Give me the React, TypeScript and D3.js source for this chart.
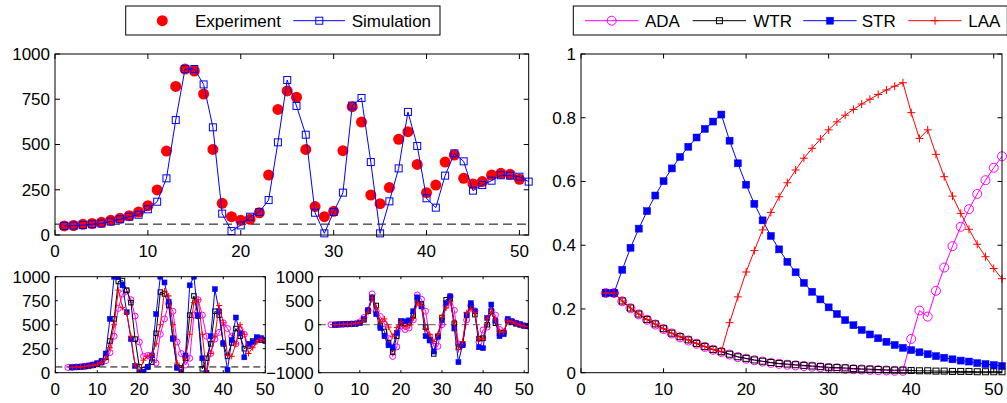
import React from "react";
import * as d3 from "d3";

const FONT = "'Liberation Sans', Arial, Helvetica, sans-serif";
const FS = 17;

// ---------- top-left panel (x = 1..)
const expStart = 1;
const experiment = [50,52,59,64,70,81,92,107,127,162,249,464,821,917,906,779,473,175,101,81,87,123,331,694,796,761,473,157,101,131,466,709,624,221,173,262,529,571,390,234,276,403,442,313,282,295,331,341,335,308];
const simStart = 1;
const simulation = [50,52,55,59,63,74,87,101,112,142,184,313,635,917,917,832,595,118,22,53,101,127,193,512,856,713,554,123,9,127,234,715,757,403,9,186,368,680,492,203,151,328,451,407,245,276,300,330,328,322,295];
const threshold = 60;

// ---------- right panel (x = 3..51)
const rStart = 3;
const adaR = [0.25,0.25,0.224,0.202,0.183,0.166,0.151,0.137,0.123,0.111,0.101,0.091,0.081,0.072,0.065,0.057,0.049,0.044,0.039,0.035,0.031,0.028,0.025,0.023,0.021,0.019,0.017,0.015,0.014,0.012,0.011,0.010,0.009,0.008,0.007,0.006,0.006,0.106,0.195,0.176,0.257,0.330,0.397,0.458,0.513,0.561,0.604,0.643,0.679];
const wtrR = [0.25,0.25,0.225,0.203,0.184,0.167,0.153,0.138,0.124,0.113,0.103,0.092,0.082,0.073,0.066,0.058,0.050,0.045,0.040,0.036,0.032,0.029,0.027,0.025,0.023,0.021,0.019,0.017,0.016,0.015,0.013,0.012,0.011,0.010,0.009,0.008,0.008,0.007,0.006,0.006,0.005,0.005,0.004,0.004,0.004,0.003,0.003,0.003,0.003];
const strR = [0.25,0.25,0.323,0.392,0.452,0.507,0.556,0.601,0.641,0.677,0.709,0.738,0.765,0.788,0.810,0.728,0.657,0.590,0.530,0.478,0.429,0.387,0.348,0.315,0.282,0.254,0.230,0.205,0.184,0.165,0.149,0.134,0.120,0.108,0.097,0.087,0.078,0.071,0.064,0.058,0.052,0.047,0.042,0.038,0.035,0.030,0.027,0.024,0.021];
const laaR = [0.25,0.25,0.225,0.203,0.184,0.167,0.153,0.138,0.124,0.113,0.103,0.092,0.082,0.073,0.066,0.157,0.238,0.316,0.383,0.448,0.503,0.552,0.596,0.636,0.673,0.704,0.733,0.762,0.787,0.808,0.826,0.843,0.858,0.873,0.887,0.899,0.910,0.816,0.735,0.762,0.685,0.615,0.554,0.500,0.450,0.403,0.364,0.327,0.295];

// ---------- bottom-left panel
const adaBLStart = 3;
const adaBL = [55,57,60,63,67,73,80,90,105,125,210,380,670,820,850,760,590,320,170,180,150,100,400,560,720,640,320,200,80,150,600,760,600,380,200,350,420,520,460,380,300,450,400,280,300,340,350,340];
const blStart = 4;
const wtrBL = [55,57,60,64,70,78,90,110,160,330,560,950,960,860,730,350,60,30,60,110,410,840,820,700,360,60,50,150,600,800,590,40,150,300,640,600,300,170,310,460,380,250,280,330,350,340,330];
const strBL = [55,58,62,67,75,85,100,125,200,560,1000,1000,910,630,350,70,0,10,60,180,610,1000,940,740,350,50,10,180,910,1000,600,150,0,380,870,640,310,30,340,575,410,160,300,320,370,360,340];
const laaBL = [55,57,60,64,70,78,90,110,150,260,500,860,680,620,380,80,0,130,170,190,300,500,850,800,500,100,0,150,400,730,760,400,0,200,380,700,520,180,170,300,500,400,200,260,320,350,330];

// ---------- bottom-right panel
const adaBRStart = 3;
const adaBR = [0,2,5,8,12,18,25,60,150,300,640,280,170,20,-290,-660,-460,-30,-100,-70,100,620,530,280,-250,-450,-450,0,400,590,300,-400,-420,100,400,290,-360,-110,-50,300,200,-100,-150,100,70,30,0,-20,-30];
const brStart = 4;
const wtrBR = [0,5,8,10,15,20,40,100,280,570,400,-15,-140,-380,-570,-240,40,30,60,200,520,430,-50,-310,-610,-240,150,520,540,30,-470,-420,200,400,210,-290,-280,0,280,30,-180,-170,80,50,20,0,-20,-30];
const strBR = [0,5,8,10,15,20,40,120,300,550,220,-70,-240,-430,-470,-170,80,70,90,280,570,380,-240,-330,-560,-250,100,450,590,-80,-780,-420,210,450,280,-470,-490,140,420,80,-240,-200,120,70,35,10,-20,-30];
const laaBR = [0,5,8,10,15,20,40,100,260,560,350,60,120,-50,-240,-60,60,-40,-20,130,450,400,-80,-200,-350,-200,150,350,480,50,-520,-350,250,330,250,-290,-300,130,260,100,-150,-150,80,60,30,-10,-30,-40];

// ticks
const xTicks = [0, 10, 20, 30, 40, 50];
const countTicks = [0, 250, 500, 750, 1000];
const diffTicks = [-1000, -500, 0, 500, 1000];
const fracTicks = [0, 0.2, 0.4, 0.6, 0.8, 1];

const legendTop = ["Experiment", "Simulation"];
const legendRight = ["ADA", "WTR", "STR", "LAA"];

type Pt = [number, number];
const toPts = (start: number, vals: number[]): Pt[] => vals.map((v, i) => [start + i, v]);

type Scale = d3.ScaleLinear<number, number>;

function Frame({ x, y, xt, yt, fmt, tl }: { x: Scale; y: Scale; xt: number[]; yt: number[]; fmt: (v: number) => string; tl: number }) {
  const [x0, x1] = x.range();
  const [y0, y1] = y.range(); // y0 bottom, y1 top
  return (
    <g>
      <rect x={x0} y={y1} width={x1 - x0} height={y0 - y1} fill="none" stroke="#000" strokeWidth={1} />
      {xt.map((t) => (
        <g key={"x" + t}>
          <line x1={x(t)} x2={x(t)} y1={y0} y2={y0 - tl} stroke="#000" />
          <line x1={x(t)} x2={x(t)} y1={y1} y2={y1 + tl} stroke="#000" />
          <text x={x(t)} y={y0 + 22} textAnchor="middle" fontSize={FS} fontFamily={FONT}>{t}</text>
        </g>
      ))}
      {yt.map((t) => (
        <g key={"y" + t}>
          <line x1={x0} x2={x0 + tl} y1={y(t)} y2={y(t)} stroke="#000" />
          <line x1={x1} x2={x1 - tl} y1={y(t)} y2={y(t)} stroke="#000" />
          <text x={x0 - 5} y={y(t)} dy="0.35em" textAnchor="end" fontSize={FS} fontFamily={FONT}>{fmt(t)}</text>
        </g>
      ))}
    </g>
  );
}

type MarkerKind = "dot" | "sq" | "fsq" | "circ" | "plus";

function Marker({ kind, cx, cy, s, color }: { kind: MarkerKind; cx: number; cy: number; s: number; color: string }) {
  const h = s / 2;
  switch (kind) {
    case "dot":
      return <circle cx={cx} cy={cy} r={h} fill={color} />;
    case "sq":
      return <rect x={cx - h} y={cy - h} width={s} height={s} fill="none" stroke={color} strokeWidth={1} />;
    case "fsq":
      return <rect x={cx - h} y={cy - h} width={s} height={s} fill={color} stroke={color} strokeWidth={0.5} />;
    case "circ":
      return <circle cx={cx} cy={cy} r={h} fill="none" stroke={color} strokeWidth={1} />;
    case "plus":
      return (
        <path d={`M${cx - h},${cy}H${cx + h}M${cx},${cy - h}V${cy + h}`} stroke={color} strokeWidth={1} fill="none" />
      );
  }
}

function Series({ pts, x, y, color, kind, s, line = true, clip }: { pts: Pt[]; x: Scale; y: Scale; color: string; kind: MarkerKind; s: number; line?: boolean; clip?: string }) {
  const gen = d3.line<Pt>().x((d) => x(d[0])).y((d) => y(d[1]));
  return (
    <g clipPath={clip}>
      {line && <path d={gen(pts) || ""} fill="none" stroke={color} strokeWidth={1} />}
      {pts.map((p, i) => (
        <Marker key={i} kind={kind} cx={x(p[0])} cy={y(p[1])} s={s} color={color} />
      ))}
    </g>
  );
}

const MAG = "#ff00ff";
const BLU = "#0000ff";
const RED = "#ff0000";
const BLK = "#000000";

export default function App() {
  // scales
  const xTL = d3.scaleLinear().domain([0, 51]).range([55, 528.7]);
  const yTL = d3.scaleLinear().domain([0, 1000]).range([235, 54]);
  const xBL = d3.scaleLinear().domain([0, 50]).range([55.3, 265.3]);
  const yBL = d3.scaleLinear().domain([0, 1000]).range([372.7, 276.7]);
  const xBR = d3.scaleLinear().domain([0, 51]).range([318.7, 528.3]);
  const yBR = d3.scaleLinear().domain([-1000, 1000]).range([372.7, 276.7]);
  const xR = d3.scaleLinear().domain([0, 51]).range([581, 1002]);
  const yR = d3.scaleLinear().domain([0, 1]).range([372.7, 54]);

  const fmtInt = (v: number) => (v < 0 ? "\u2212" + Math.abs(v) : String(v));
  const fmtFrac = (v: number) => String(v);

  const ly = 20.7;

  return (
    <svg width={1007} height={403} style={{ position: "absolute", left: 0, top: 0, background: "#fff" }}>
      <defs>
        <clipPath id="cTL"><rect x={55} y={54} width={473.7} height={181} /></clipPath>
        <clipPath id="cBL"><rect x={55.3} y={276.7} width={210} height={96} /></clipPath>
        <clipPath id="cBR"><rect x={318.7} y={276.7} width={209.6} height={96} /></clipPath>
        <clipPath id="cR"><rect x={581} y={54} width={421} height={318.7} /></clipPath>
      </defs>
      <rect x={0} y={0} width={1007} height={403} fill="#fff" />

      {/* Top-left */}
      <line x1={xTL(0)} x2={xTL(51)} y1={yTL(threshold)} y2={yTL(threshold)} stroke="#000" strokeDasharray="9,5" />
      <Series pts={toPts(expStart, experiment)} x={xTL} y={yTL} color={RED} kind="dot" s={11} line={false} />
      <Series pts={toPts(simStart, simulation)} x={xTL} y={yTL} color={BLU} kind="sq" s={7} />
      <Frame x={xTL} y={yTL} xt={xTicks} yt={countTicks} fmt={fmtInt} tl={5} />

      {/* Bottom-left */}
      <line x1={xBL(0)} x2={xBL(50)} y1={yBL(threshold)} y2={yBL(threshold)} stroke="#000" strokeDasharray="7,4" />
      <Series pts={toPts(adaBLStart, adaBL)} x={xBL} y={yBL} color={MAG} kind="circ" s={6} clip="url(#cBL)" />
      <Series pts={toPts(blStart, wtrBL)} x={xBL} y={yBL} color={BLK} kind="sq" s={4.5} clip="url(#cBL)" />
      <Series pts={toPts(blStart, strBL)} x={xBL} y={yBL} color={BLU} kind="fsq" s={5} clip="url(#cBL)" />
      <Series pts={toPts(blStart, laaBL)} x={xBL} y={yBL} color={RED} kind="plus" s={6} clip="url(#cBL)" />
      <Frame x={xBL} y={yBL} xt={xTicks} yt={countTicks} fmt={fmtInt} tl={2.5} />

      {/* Bottom-right */}
      <line x1={xBR(0)} x2={xBR(51)} y1={yBR(0)} y2={yBR(0)} stroke="#555" strokeDasharray="7,4" />
      <Series pts={toPts(adaBRStart, adaBR)} x={xBR} y={yBR} color={MAG} kind="circ" s={6} clip="url(#cBR)" />
      <Series pts={toPts(brStart, wtrBR)} x={xBR} y={yBR} color={BLK} kind="sq" s={4.5} clip="url(#cBR)" />
      <Series pts={toPts(brStart, strBR)} x={xBR} y={yBR} color={BLU} kind="fsq" s={5} clip="url(#cBR)" />
      <Series pts={toPts(brStart, laaBR)} x={xBR} y={yBR} color={RED} kind="plus" s={6} clip="url(#cBR)" />
      <Frame x={xBR} y={yBR} xt={xTicks} yt={diffTicks} fmt={fmtInt} tl={2.5} />

      {/* Right */}
      <Series pts={toPts(rStart, adaR)} x={xR} y={yR} color={MAG} kind="circ" s={9} />
      <Series pts={toPts(rStart, wtrR)} x={xR} y={yR} color={BLK} kind="sq" s={6} />
      <Series pts={toPts(rStart, strR)} x={xR} y={yR} color={BLU} kind="fsq" s={7} />
      <Series pts={toPts(rStart, laaR)} x={xR} y={yR} color={RED} kind="plus" s={8} />
      <Frame x={xR} y={yR} xt={xTicks} yt={fracTicks} fmt={fmtFrac} tl={4.5} />

      {/* Legend top-left */}
      <g fontFamily={FONT} fontSize={FS}>
        <rect x={125.7} y={6} width={314.3} height={29} fill="#fff" stroke="#000" />
        <Marker kind="dot" cx={162.3} cy={ly} s={11} color={RED} />
        <text x={195} y={ly} dy="0.35em">{legendTop[0]}</text>
        <line x1={293.3} x2={345} y1={ly} y2={ly} stroke={BLU} />
        <Marker kind="sq" cx={319.3} cy={ly} s={7} color={BLU} />
        <text x={351.7} y={ly} dy="0.35em">{legendTop[1]}</text>
      </g>

      {/* Legend right */}
      <g fontFamily={FONT} fontSize={FS}>
        <rect x={573.3} y={6} width={434} height={29} fill="#fff" stroke="#000" />
        {legendRight.map((name, i) => {
          const lx = [585, 692.7, 803.3, 908.3][i];
          const tx = [645, 753.3, 861.7, 968.3][i];
          const color = [MAG, BLK, BLU, RED][i];
          const kind = (["circ", "sq", "fsq", "plus"] as MarkerKind[])[i];
          const s = [9, 6, 7, 8][i];
          return (
            <g key={name}>
              <line x1={lx} x2={lx + 53.3} y1={ly} y2={ly} stroke={color} />
              <Marker kind={kind} cx={lx + 26.7} cy={ly} s={s} color={color} />
              <text x={tx} y={ly} dy="0.35em">{name}</text>
            </g>
          );
        })}
      </g>
    </svg>
  );
}
